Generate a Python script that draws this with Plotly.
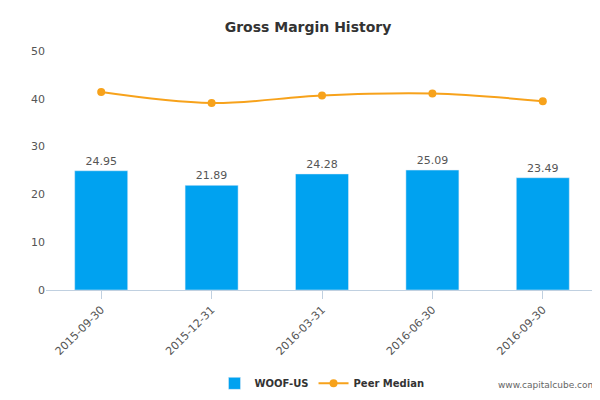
import plotly.graph_objects as go

categories = ["2015-09-30", "2015-12-31", "2016-03-31", "2016-06-30", "2016-09-30"]
woof = [24.95, 21.89, 24.28, 25.09, 23.49]
peer = [41.4, 39.1, 40.7, 41.1, 39.5]
yticks = [0, 10, 20, 30, 40, 50]

fig = go.Figure()
fig.add_bar(x=categories, y=woof, name="<b>WOOF-US</b>", marker_color="#00a2f0",
            width=0.48, text=[f"{v:.2f}" for v in woof], textposition="outside",
            textfont=dict(size=11, color="#555"), cliponaxis=False)
fig.add_scatter(x=categories, y=peer, name="<b>Peer Median</b>", mode="lines+markers",
                line=dict(color="#f7a21b", width=2, shape="spline"),
                marker=dict(size=8, color="#f7a21b"))
fig.update_layout(
    width=600, height=400, plot_bgcolor="white", paper_bgcolor="white",
    margin=dict(l=38, r=10, t=43, b=113),
    title=dict(text="<b>Gross Margin History</b>", x=0.5, y=0.965, xanchor="center",
               font=dict(size=14, color="#333", family="DejaVu Sans")),
    font=dict(family="DejaVu Sans", size=11, color="#555"),
    yaxis=dict(range=[0, 50], tickvals=yticks, showgrid=False, zeroline=False,
               showline=False, ticks=""),
    xaxis=dict(type="category", tickangle=-45, showline=True, linecolor="#c0d0e0",
               ticks="outside", tickcolor="#c0d0e0", ticklen=8),
    legend=dict(orientation="h", x=0.5, xanchor="center", y=-0.33, yanchor="top",
                font=dict(size=10, color="#333")),
    showlegend=True,
)
fig.add_annotation(text="www.capitalcube.com", xref="paper", yref="paper",
                   x=1, y=-0.37, xanchor="right", yanchor="top", showarrow=False,
                   font=dict(size=9, color="#666"))
fig.write_html("out.html")
